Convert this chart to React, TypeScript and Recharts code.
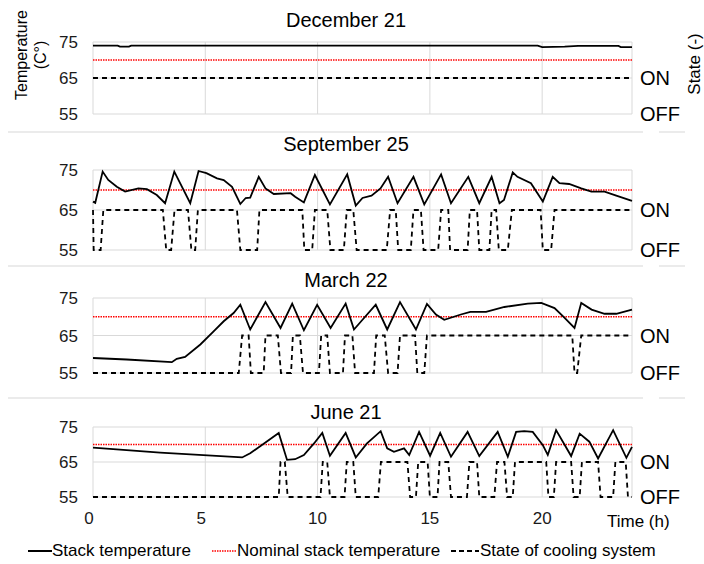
import { LineChart, Line, XAxis, YAxis, CartesianGrid } from 'recharts'

// [hour, value] pairs
const nominal = [[0, 70], [24, 70]]

const decTemp = [[0, 74.0], [1.1, 74.0], [1.2, 73.7], [1.6, 73.7], [1.7, 74.0], [19.8, 74.0], [20.0, 73.6], [21.0, 73.7], [21.6, 73.9], [23.4, 73.9], [23.5, 73.6], [24, 73.6]]
const decState = [[0, 65], [24, 65]]

const sepTemp = [[0, 67.1], [0.1, 66.8], [0.43, 74.6], [0.68, 72.5], [1.06, 70.8], [1.43, 69.6], [2.02, 70.4], [2.4, 70.2], [2.84, 68.75], [3.21, 66.7], [3.62, 74.6], [4.33, 66.7], [4.7, 74.75], [5.05, 74.2], [5.52, 72.9], [5.82, 72.5], [6.19, 70.8], [6.56, 66.5], [6.8, 68], [7.0, 68.1], [7.38, 73.3], [7.68, 70.4], [8.05, 69], [8.8, 69.2], [9.0, 68.3], [9.39, 66.9], [9.88, 73.75], [10.55, 66.4], [11.32, 73.9], [11.7, 66.1], [12.0, 68], [12.4, 68.6], [12.8, 70.4], [13.14, 73.3], [13.56, 66.7], [14.27, 73.3], [14.75, 66.4], [15.5, 73.9], [15.94, 66.7], [16.71, 73.3], [17.2, 66.7], [17.75, 73.3], [18.1, 66.7], [18.3, 67.5], [18.69, 74.4], [18.9, 73.3], [19.5, 71.7], [20.03, 67.1], [20.47, 73.3], [20.77, 71.7], [21.2, 71.5], [21.74, 70.4], [22.19, 69.6], [22.78, 69.6], [23.3, 68.6], [24, 67.3]]
const sepState = [[0, 65], [0.03, 55], [0.34, 55], [0.46, 65], [3.11, 65], [3.26, 55], [3.48, 55], [3.63, 65], [4.23, 65], [4.38, 55], [4.55, 55], [4.67, 65], [6.41, 65], [6.56, 55], [7.31, 55], [7.41, 65], [9.32, 65], [9.41, 55], [9.76, 55], [9.88, 65], [10.43, 65], [10.57, 55], [11.17, 55], [11.3, 65], [11.59, 65], [11.74, 55], [13.08, 55], [13.23, 65], [13.48, 65], [13.59, 55], [14.15, 55], [14.27, 65], [14.6, 65], [14.72, 55], [15.37, 55], [15.5, 65], [15.82, 65], [15.9, 55], [16.68, 55], [16.78, 65], [17.1, 65], [17.2, 55], [17.65, 55], [17.75, 65], [17.95, 65], [18.07, 55], [18.47, 55], [18.65, 65], [19.93, 65], [20.03, 55], [20.4, 55], [20.55, 65], [24, 65]]

const marTemp = [[0, 59.0], [1.5, 58.6], [3.51, 57.9], [3.73, 58.8], [4.1, 59.3], [4.78, 62.6], [5.37, 66.1], [5.82, 68.8], [6.26, 71], [6.56, 73.2], [7.0, 66.6], [7.68, 73.9], [8.35, 67], [8.87, 73.5], [9.39, 66.4], [9.98, 73.2], [10.58, 67], [11.25, 73.5], [11.62, 66.6], [12.0, 69.2], [12.59, 73.2], [13.1, 66.6], [13.67, 73.9], [14.38, 66.6], [14.87, 73.4], [15.27, 70.6], [15.64, 69.2], [16.38, 70.6], [16.8, 71.3], [17.5, 71.3], [18.32, 72.6], [19.36, 73.5], [19.96, 73.7], [20.55, 72.3], [21.0, 69.7], [21.44, 67], [21.74, 73.7], [22.2, 71.9], [22.78, 70.8], [23.3, 70.8], [24, 71.9]]
const marState = [[0, 55], [6.49, 55], [6.64, 65], [6.93, 65], [7.03, 55], [7.6, 55], [7.68, 65], [8.23, 65], [8.37, 55], [8.82, 55], [8.9, 65], [9.21, 65], [9.35, 55], [10.06, 55], [10.16, 65], [10.43, 65], [10.55, 55], [11.13, 55], [11.22, 65], [11.55, 65], [11.67, 55], [12.51, 55], [12.61, 65], [12.99, 65], [13.14, 55], [13.56, 55], [13.67, 65], [14.34, 65], [14.44, 55], [14.75, 55], [14.87, 65], [21.34, 65], [21.44, 55], [21.56, 55], [21.74, 65], [24, 65]]

const junTemp = [[0, 69.1], [2.99, 67.7], [6.64, 66.3], [7.0, 67.5], [7.46, 69.6], [8.27, 73.3], [8.64, 65.6], [9.0, 65.8], [9.39, 67], [9.84, 70.3], [10.21, 73.3], [10.55, 66.8], [11.25, 73.3], [11.7, 66.3], [12.2, 70.3], [12.81, 73.8], [13.1, 68.9], [13.4, 67.9], [13.85, 68.9], [14.08, 67], [14.52, 73.6], [15.01, 66.8], [15.46, 73.3], [15.94, 66.5], [16.68, 73.6], [17.2, 66.7], [18.02, 73.6], [18.47, 66.5], [18.84, 73.6], [19.2, 73.8], [19.58, 73.6], [20.03, 69.8], [20.25, 67], [20.62, 74.1], [21.29, 66.7], [21.67, 73.1], [22.1, 70.8], [22.49, 66], [23.16, 74.1], [23.75, 66.2], [24, 69.3]]
const junState = [[0, 55], [8.27, 55], [8.35, 65], [8.54, 65], [8.67, 55], [10.13, 55], [10.23, 65], [10.43, 65], [10.55, 55], [11.2, 55], [11.3, 65], [11.59, 65], [11.7, 55], [12.7, 55], [12.82, 65], [14.0, 65], [14.12, 55], [14.38, 55], [14.48, 65], [14.9, 65], [15.0, 55], [15.34, 55], [15.43, 65], [15.82, 65], [15.94, 55], [16.65, 55], [16.76, 65], [17.1, 65], [17.2, 55], [17.87, 55], [17.99, 65], [18.32, 65], [18.44, 55], [18.69, 55], [18.79, 65], [20.18, 65], [20.28, 55], [20.52, 55], [20.62, 65], [21.29, 65], [21.4, 55], [21.67, 55], [21.77, 65], [22.49, 65], [22.6, 55], [23.16, 55], [23.26, 65], [23.72, 65], [23.82, 55], [24, 55]]

const xTicks = [0, 5, 10, 15, 20, 24]
const yTicks = [55, 65, 75]
const stateTicks = [55, 65]

const FONT = '"Liberation Sans", Arial, sans-serif'
const pts = (arr: number[][]) => arr.map(([t, v]) => ({ t, v }))

const panels = [
  { title: 'December 21', temp: decTemp, state: decState, plotTop: 42, plotH: 72, titleTop: 8 },
  { title: 'September 25', temp: sepTemp, state: sepState, plotTop: 170, plotH: 80, titleTop: 132 },
  { title: 'March 22', temp: marTemp, state: marState, plotTop: 298, plotH: 75, titleTop: 268 },
  { title: 'June 21', temp: junTemp, state: junState, plotTop: 427, plotH: 70, titleTop: 400 },
]

function XTick({ x, y, payload }: any) {
  const v = payload.value
  if (v === 24) return null
  const dx = v < 10 ? -4 : 0
  return (
    <text x={x + dx} y={y} dy={13} textAnchor="middle" fill="#1a1a1a" fontSize={17} fontFamily={FONT}>{v}</text>
  )
}

function Panel({ p, showX }: { p: typeof panels[0]; showX: boolean }) {
  const h = p.plotH + 10 + (showX ? 30 : 10)
  return (
    <>
      <div style={{ position: 'absolute', left: 246, width: 200, top: p.titleTop, textAlign: 'center', fontSize: 20, lineHeight: '24px', color: '#000' }}>
        {p.title}
      </div>
      <div style={{ position: 'absolute', left: 0, top: p.plotTop - 10 }}>
        <LineChart width={704} height={h} margin={{ top: 10, right: 12, bottom: showX ? 0 : 10, left: 0 }}>
          <CartesianGrid stroke="#d9d9d9" strokeWidth={1} />
          <XAxis type="number" dataKey="t" domain={[0, 24]} ticks={xTicks} hide={!showX} height={30} interval={0}
            axisLine={false} tickLine={false} tickMargin={8} tick={<XTick />} />
          <YAxis yAxisId={0} domain={[55, 75]} ticks={yTicks} width={93} interval={0} axisLine={false} tickLine={false} tickMargin={9}
            tick={{ fill: '#1a1a1a', fontSize: 17, fontFamily: FONT }} />
          <YAxis yAxisId="r" orientation="right" domain={[55, 75]} ticks={stateTicks} width={60} interval={0} axisLine={false} tickLine={false} tickMargin={2}
            tick={{ fill: '#000', fontSize: 20, fontFamily: FONT }}
            tickFormatter={(v: number) => (v === 65 ? 'ON' : 'OFF')} />
          <Line yAxisId="r" data={pts(nominal)} dataKey="v" type="linear" stroke="#ff0000" strokeWidth={1.5} strokeDasharray="1.5 1" dot={false} isAnimationActive={false} />
          <Line yAxisId={0} data={pts(p.state)} dataKey="v" type="linear" stroke="#000" strokeWidth={1.8} strokeDasharray="5 4" dot={false} isAnimationActive={false} />
          <Line yAxisId={0} data={pts(p.temp)} dataKey="v" type="linear" stroke="#000" strokeWidth={1.8} dot={false} isAnimationActive={false} />
        </LineChart>
      </div>
    </>
  )
}

function Sep({ y }: { y: number }) {
  return (
    <>
      <div style={{ position: 'absolute', left: 8, top: y, width: 635, height: 2, background: '#ebebeb' }} />
      <div style={{ position: 'absolute', left: 659, top: y, width: 26, height: 2, background: '#ebebeb' }} />
    </>
  )
}

export default function App() {
  return (
    <div style={{ position: 'absolute', left: 0, top: 0, width: 704, height: 564, background: '#fff', fontFamily: FONT, color: '#000', overflow: 'hidden' }}>
      <Sep y={131} />
      <Sep y={265} />
      <Sep y={397} />
      {panels.map((p, i) => (
        <Panel key={p.title} p={p} showX={i === panels.length - 1} />
      ))}

      <div style={{ position: 'absolute', left: -18, top: 35, width: 100, height: 40, transform: 'rotate(-90deg)', textAlign: 'center', fontSize: 16, lineHeight: '19px' }}>
        Temperature<br />(C°)
      </div>
      <div style={{ position: 'absolute', left: 655, top: 54, width: 80, height: 20, transform: 'rotate(-90deg)', textAlign: 'center', fontSize: 17, lineHeight: '20px' }}>
        State (-)
      </div>
      <div style={{ position: 'absolute', left: 607, top: 512, fontSize: 17, lineHeight: '20px' }}>Time (h)</div>

      <div style={{ position: 'absolute', left: 0, top: 541, width: 704, height: 22, fontSize: 17, lineHeight: '20px' }}>
        <svg style={{ position: 'absolute', left: 28, top: 0 }} width={24} height={20}>
          <line x1={0} y1={10} x2={24} y2={10} stroke="#000" strokeWidth={2} />
        </svg>
        <span style={{ position: 'absolute', left: 52, top: 0 }}>Stack temperature</span>
        <svg style={{ position: 'absolute', left: 212, top: 0 }} width={24} height={20}>
          <line x1={0} y1={10} x2={24} y2={10} stroke="#ff0000" strokeWidth={1.5} strokeDasharray="1.5 1" />
        </svg>
        <span style={{ position: 'absolute', left: 237, top: 0 }}>Nominal stack temperature</span>
        <svg style={{ position: 'absolute', left: 451, top: 0 }} width={28} height={20}>
          <line x1={0} y1={10} x2={28} y2={10} stroke="#000" strokeWidth={2} strokeDasharray="5 3" />
        </svg>
        <span style={{ position: 'absolute', left: 480, top: 0 }}>State of cooling system</span>
      </div>
    </div>
  )
}
